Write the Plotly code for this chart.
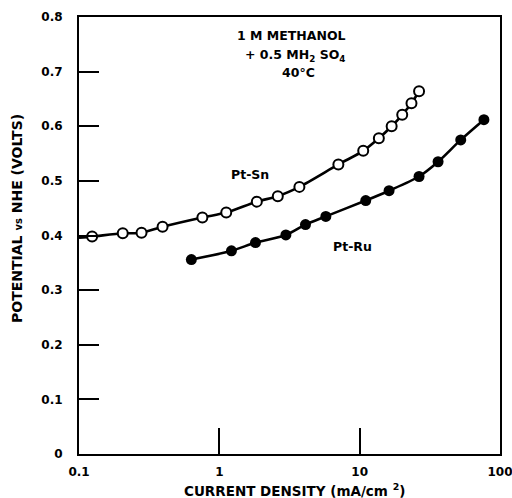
import plotly.graph_objects as go

# Pt-Sn (open circles)
ptsn_x = [0.124, 0.205, 0.279, 0.394, 0.757, 1.12, 1.85, 2.61, 3.72, 7.05, 10.6, 13.7, 16.9, 20.1, 23.4, 26.5]
ptsn_y = [0.398, 0.404, 0.405, 0.416, 0.433, 0.442, 0.462, 0.472, 0.489, 0.530, 0.555, 0.578, 0.600, 0.621, 0.642, 0.664]
# smooth curve drawn through Pt-Sn, starting at the left axis
ptsn_curve_x = [0.1] + ptsn_x
ptsn_curve_y = [0.396] + ptsn_y

# Pt-Ru (filled circles)
ptru_x = [0.632, 1.22, 1.81, 2.98, 4.11, 5.74, 11.05, 16.2, 26.5, 36.2, 52.5, 76.8]
ptru_y = [0.356, 0.372, 0.387, 0.401, 0.420, 0.435, 0.464, 0.482, 0.508, 0.535, 0.575, 0.612]

y_ticks = [0, 0.1, 0.2, 0.3, 0.4, 0.5, 0.6, 0.7, 0.8]
y_labels = ["0", "0.1", "0.2", "0.3", "0.4", "0.5", "0.6", "0.7", "0.8"]
x_ticks = [0.1, 1, 10, 100]
x_labels = ["0.1", "1", "10", "100"]

FONT = "DejaVu Sans"
W, H = 512, 498
L, R, T, B = 79, 12, 17, 44

fig = go.Figure()
fig.add_trace(go.Scatter(x=ptsn_curve_x, y=ptsn_curve_y, mode="lines",
                         line=dict(color="black", width=2.6, shape="spline", smoothing=0.8),
                         hoverinfo="skip", showlegend=False))
fig.add_trace(go.Scatter(x=ptsn_x, y=ptsn_y, mode="markers", name="Pt-Sn",
                         marker=dict(symbol="circle", size=10, color="white",
                                     line=dict(color="black", width=2)),
                         showlegend=False))
fig.add_trace(go.Scatter(x=ptru_x, y=ptru_y, mode="lines+markers", name="Pt-Ru",
                         line=dict(color="black", width=2.6, shape="spline", smoothing=0.8),
                         marker=dict(symbol="circle", size=11, color="black"),
                         showlegend=False))

tick_font = dict(family=FONT, size=12, color="black", weight="bold")
fig.update_layout(
    width=W, height=H, autosize=False,
    margin=dict(l=L, r=R, t=T, b=B, pad=0),
    paper_bgcolor="white", plot_bgcolor="white",
    font=dict(family=FONT, color="black", size=12),
    xaxis=dict(type="log", range=[-1, 2], tickvals=x_ticks, ticktext=x_labels,
               ticks="inside", ticklen=26, tickwidth=1.5, tickcolor="black",
               showline=True, linecolor="black", linewidth=2, mirror=True,
               showgrid=False, zeroline=False, ticklabelstandoff=6,
               ticklabeloverflow="allow",
               automargin=False, tickfont=tick_font),
    yaxis=dict(range=[0, 0.8], tickvals=y_ticks, ticktext=y_labels,
               ticks="inside", ticklen=20, tickwidth=1.5, tickcolor="black",
               showline=True, linecolor="black", linewidth=2, mirror=True,
               showgrid=False, zeroline=False, ticklabelstandoff=12,
               ticklabeloverflow="allow",
               automargin=False, tickfont=tick_font),
)


def to_paper(px, py):
    return (px - L) / (W - L - R), (H - B - py) / (H - T - B)


notes = [
    (291, 36, "1 M METHANOL", 12.5),
    (295, 55, "+ 0.5 MH<sub>2</sub> SO<sub>4</sub>", 12.5),
    (298, 72, "40°C", 12.5),
    (250, 175, "Pt-Sn", 12.5),
    (352, 246, "Pt-Ru", 12.5),
]
for px, py, t, fs in notes:
    xp, yp = to_paper(px, py)
    fig.add_annotation(x=xp, y=yp, xref="paper", yref="paper", text=t,
                       xanchor="center", yanchor="middle", showarrow=False,
                       font=dict(family=FONT, size=fs, color="black", weight="bold"))

xt, yt = to_paper(17, 219)
fig.add_annotation(x=xt, y=yt, xref="paper", yref="paper",
                   text="POTENTIAL <span style='font-size:10px'>vs</span> NHE (VOLTS)",
                   textangle=-90, showarrow=False, xanchor="center", yanchor="middle",
                   font=dict(family=FONT, size=14, color="black", weight="bold"))
xt, yt = to_paper(294, 490)
fig.add_annotation(x=xt, y=yt, xref="paper", yref="paper",
                   text="CURRENT DENSITY (mA/cm <sup>2</sup>)",
                   showarrow=False, xanchor="center", yanchor="middle",
                   font=dict(family=FONT, size=13.5, color="black", weight="bold"))

fig.write_html("out.html", config={"displayModeBar": False},
               post_script="document.body.style.margin='0';document.body.style.overflow='hidden';")
